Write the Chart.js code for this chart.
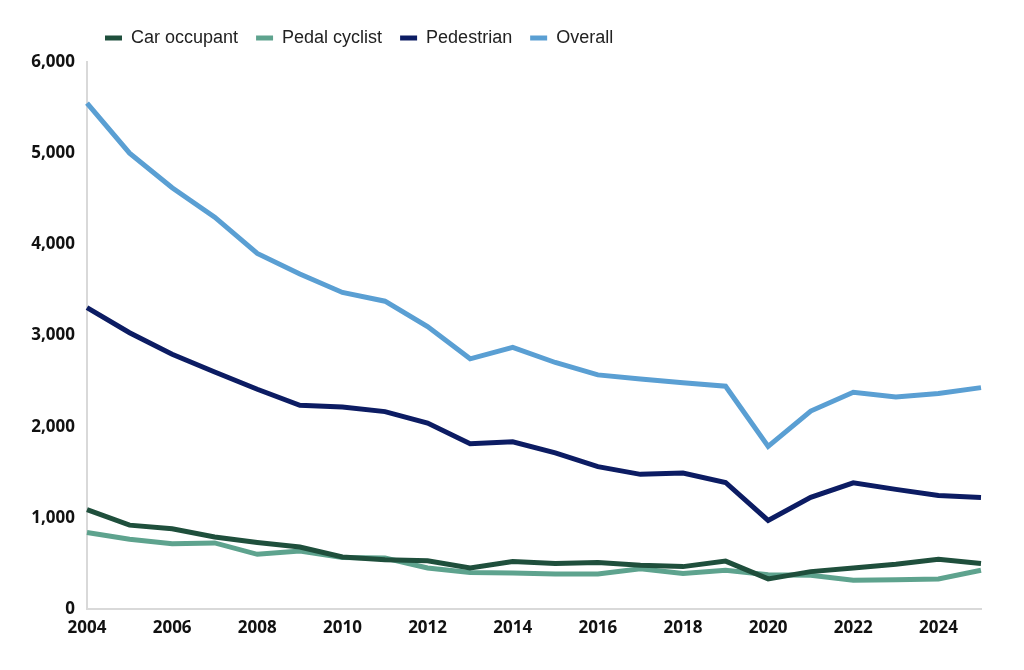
<!DOCTYPE html>
<html>
<head>
<meta charset="utf-8">
<script src="https://cdn.jsdelivr.net/npm/chart.js@4"></script>
<style>
  html, body { margin: 0; padding: 0; background: #fff; }
  #wrap { width: 1024px; height: 670px; position: relative; }
</style>
</head>
<body>
<div id="wrap"><canvas id="casualtyChart"></canvas></div>
<script>
// Data
const years = ['2004', '2005', '2006', '2007', '2008', '2009', '2010', '2011', '2012', '2013', '2014',
               '2015', '2016', '2017', '2018', '2019', '2020', '2021', '2022', '2023', '2024', '2025'];

const carOccupant = [1090, 920, 880, 790, 730, 680, 570, 540, 530, 450, 520,
                     500, 510, 480, 465, 525, 330, 410, 450, 490, 545, 500];
const pedalCyclist = [840, 765, 715, 725, 600, 635, 565, 560, 450, 400, 395,
                      385, 385, 440, 390, 425, 375, 370, 315, 320, 330, 425];
const pedestrian = [3305, 3030, 2795, 2600, 2410, 2235, 2215, 2165, 2040, 1812, 1835,
                    1712, 1562, 1477, 1492, 1388, 971, 1224, 1384, 1312, 1245, 1224];
const overall = [5548, 5000, 4620, 4298, 3900, 3675, 3472, 3376, 3098, 2744, 2869,
                 2704, 2568, 2524, 2482, 2444, 1784, 2171, 2378, 2326, 2365, 2428];

const yTicks = [0, 1000, 2000, 3000, 4000, 5000, 6000];

const colours = {
  car: '#1f4f3c',
  cyclist: '#5ea38e',
  pedestrian: '#0c1c63',
  overall: '#5a9fd3'
};

function lineSet(label, data, colour) {
  return {
    label: label,
    data: data,
    borderColor: colour,
    backgroundColor: colour,
    borderWidth: 5,
    pointRadius: 0,
    tension: 0,
    fill: false
  };
}

const ctx = document.getElementById('casualtyChart');
new Chart(ctx.getContext('2d'), {
  type: 'line',
  data: {
    labels: years,
    datasets: [
      lineSet('Car occupant', carOccupant, colours.car),
      lineSet('Pedal cyclist', pedalCyclist, colours.cyclist),
      lineSet('Pedestrian', pedestrian, colours.pedestrian),
      lineSet('Overall', overall, colours.overall)
    ]
  },
  options: {
    responsive: true,
    maintainAspectRatio: false,
    animation: false,
    layout: { padding: { top: 11, right: 43, left: 0, bottom: 0 } },
    plugins: {
      tooltip: { enabled: false },
      // empty title used only as a small spacer between legend and plot
      title: {
        display: true,
        text: ' ',
        weight: 500,
        font: { size: 1, lineHeight: 1 },
        padding: { top: 4, bottom: 0 }
      },
      legend: {
        position: 'top',
        align: 'start',
        fullSize: false,
        labels: {
          boxWidth: 17,
          boxHeight: 5,
          padding: 18,
          color: '#222',
          font: { family: '"Liberation Sans", Arial, sans-serif', size: 18 },
          generateLabels: function(chart) {
            // flat boxes with no outline, like the reference
            return Chart.defaults.plugins.legend.labels.generateLabels(chart).map(item => {
              item.lineWidth = 0;
              return item;
            });
          }
        }
      }
    },
    scales: {
      x: {
        type: 'category',
        offset: false,
        grid: { display: false },
        border: { display: true, color: '#d9d9d9', width: 2 },
        ticks: {
          color: '#111',
          maxRotation: 0,
          autoSkip: false,
          padding: 1,
          font: { family: '"Open Sans", sans-serif', size: 17, weight: 'bold' },
          callback: function(value, index) {
            return index % 2 === 0 ? years[index] : '';
          }
        },
        afterFit: function(scale) { scale.height = 61; }
      },
      y: {
        min: yTicks[0],
        max: yTicks[yTicks.length - 1],
        grid: { display: false },
        border: { display: true, color: '#d9d9d9', width: 2 },
        afterBuildTicks: function(scale) {
          scale.ticks = yTicks.map(v => ({ value: v }));
        },
        ticks: {
          color: '#111',
          padding: 4,
          font: { family: '"Open Sans", sans-serif', size: 17, weight: 'bold' },
          callback: function(value) { return value.toLocaleString('en-US'); }
        },
        afterFit: function(scale) { scale.width = 87; }
      }
    }
  }
});
</script>
</body>
</html>
